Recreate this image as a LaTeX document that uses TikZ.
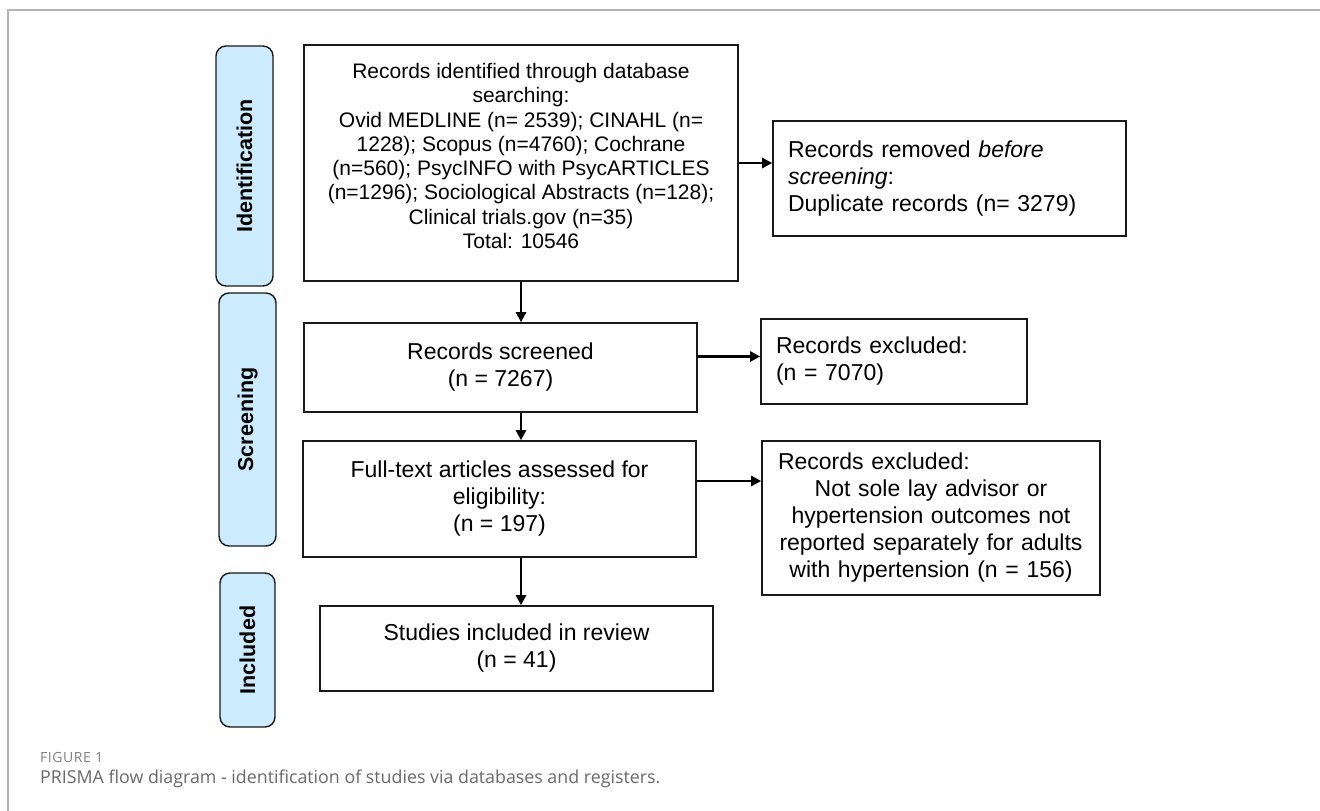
\documentclass[tikz,border=0pt]{standalone}
\usepackage{fontspec}
\setmainfont{Liberation Sans}
\newfontfamily\capfont{Open Sans}
\usepackage{tikz}
\usetikzlibrary{arrows.meta}

\definecolor{stagefill}{RGB}{204,235,252}
\definecolor{capgray}{RGB}{105,105,105}
\definecolor{framegray}{RGB}{180,180,180}

\begin{document}
\begin{tikzpicture}[x=1pt, y=-1pt, >={Triangle[length=10pt, width=10pt]},
    box/.style={draw=black!90, line width=1.6pt, rectangle, inner sep=0pt, align=center, font=\fontsize{23}{27}\selectfont},
    leftbox/.style={box, align=left, inner xsep=15pt},
    stage/.style={draw=black!90, line width=1.4pt, rectangle, rounded corners=10pt, fill=stagefill, rotate=90, font=\fontsize{21.5}{24}\selectfont\bfseries},
    flow/.style={line width=2.4pt, ->}]
    \useasboundingbox (0, 0) rectangle (1320, 811);
    \draw[framegray, line width=1.5pt] (8, 811) -- (8, 10) -- (1320, 10);

    % stages
    \node[stage, minimum width=240pt, minimum height=57pt] at (244.5, 166) (stageId) {Identification};
    \node[stage, minimum width=253pt, minimum height=57pt] at (247.5, 419.5) (stageScr) {Screening};
    \node[stage, minimum width=154pt, minimum height=55pt] at (247.5, 650) (stageInc) {Included};

    % main column
    \node[box, minimum width=434pt, minimum height=236pt, font=\fontsize{21}{24.3}\selectfont] at (521, 163) (ident) {Records identified through database\\searching:\\Ovid MEDLINE (n= 2539); CINAHL (n=\\1228); Scopus (n=4760); Cochrane\\(n=560); PsycINFO with PsycARTICLES\\(n=1296); Sociological Abstracts (n=128);\\Clinical trials.gov (n=35)\\Total: 10546\\[-10pt]};
    \node[box, minimum width=393pt, minimum height=89pt] at (500.5, 367.5) (screened) {Records screened\\(n = 7267)};
    \node[box, minimum width=393pt, minimum height=116pt] at (499.5, 499) (fulltext) {Full-text articles assessed for\\eligibility:\\(n = 197)};
    \node[box, minimum width=393pt, minimum height=85pt] at (516.5, 648.5) (included) {Studies included in review\\(n = 41)};

    % side column
    \node[leftbox, text width=323pt, minimum height=115pt] at (949.5, 178.5) (removed) {Records removed \textit{before}\\\textit{screening}:\\Duplicate records (n= 3279)};
    \node[leftbox, text width=236pt, minimum height=85pt] at (894, 361.5) (excluded1) {Records excluded:\\(n = 7070)};
    \node[box, text width=306pt, inner xsep=16pt, minimum height=154pt] at (931, 518) (excluded2) {\makebox[306pt][l]{Records excluded:}\\Not sole lay advisor or\\hypertension outcomes not\\reported separately for adults\\with hypertension (n = 156)};

    \draw[flow] (ident.south) -- (ident.south |- screened.north);
    \draw[flow] (screened.south -| ident.south) -- (fulltext.north -| ident.south);
    \draw[flow] (fulltext.south -| ident.south) -- (included.north -| ident.south);
    \draw[flow] (ident.east) -- (ident.east -| removed.west);
    \draw[flow] ([yshift=11pt]screened.east) -- ([yshift=11pt]screened.east -| excluded1.west);
    \draw[flow] ([yshift=18pt]fulltext.east) -- ([yshift=18pt]fulltext.east -| excluded2.west);

    % caption
    \node[anchor=west, inner sep=0pt, text=capgray!85, font=\capfont\fontsize{14}{16}\selectfont\addfontfeature{LetterSpace=4}] at (40, 757) (capnum) {FIGURE 1};
    \node[anchor=west, inner sep=0pt, text=capgray, font=\capfont\fontsize{17.8}{20}\selectfont] at (40, 779) (captext) {PRISMA flow diagram - identification of studies via databases and registers.};
\end{tikzpicture}
\end{document}
